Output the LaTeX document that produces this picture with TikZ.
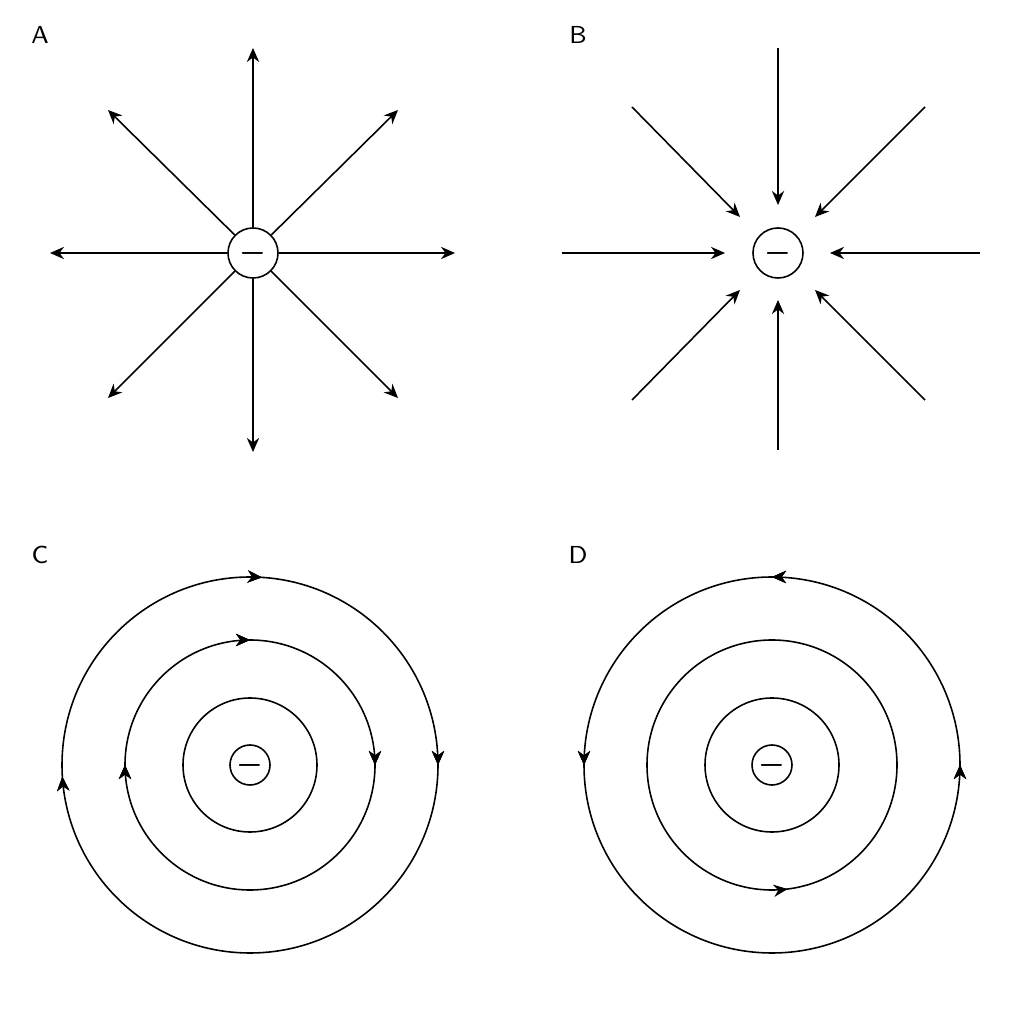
\documentclass[tikz,border=0pt]{standalone}
\usetikzlibrary{arrows.meta,decorations.markings}
\begin{document}
\begin{tikzpicture}[x=0.01cm,y=0.01cm,line width=0.45pt,
    charge/.style={draw,circle,minimum size=0.5cm,inner sep=0pt,font=\fontsize{8}{8}\selectfont\boldmath},
    lab/.style={font=\sffamily\fontsize{7}{8}\selectfont},
    field/.style={-{Stealth[length=4pt,width=3.5pt]}},
    ccw/.style={postaction={decorate},decoration={markings,
      mark=at position #1 with {\arrow{Stealth[length=4pt,width=3.5pt]}}}},
    cw/.style={postaction={decorate},decoration={markings,
      mark=at position #1 with {\arrowreversed{Stealth[length=4pt,width=3.5pt]}}}}]
  \useasboundingbox (0,0) rectangle (1024,1024);

  % A: field lines leaving the charge
  \node[lab] (la) at (40,989) {A};
  \node[charge] (qa) at (253,771) {$-$};
  \foreach \px/\py [count=\i] in {253/976, 253/572, 50/771, 455/771, 108/914, 398/914, 108/626, 398/626} {
    \coordinate (a\i) at (\px,\py);
    \draw[field] (qa) -- (a\i);
  }

  % B: field lines entering the charge
  \node[lab] (lb) at (578,989) {B};
  \node[charge] (qb) at (778,771) {$-$};
  \foreach \sx/\sy/\ex/\ey [count=\i] in {778/976/778/819, 778/574/778/724, 562/771/725/771, 980/771/830/771,
      632/917/740/807, 925/917/815/807, 632/624/740/734, 925/624/815/734} {
    \coordinate (bs\i) at (\sx,\sy);
    \coordinate (be\i) at (\ex,\ey);
    \draw[field] (bs\i) -- (be\i);
  }

  % C: clockwise rings (arcs start at the bottom)
  \node[lab] (lc) at (40,469) {C};
  \node[charge,minimum size=0.4cm] (qc) at (250,259) {$-$};
  \draw (qc.center) circle (67);
  \draw[cw=0.25,cw=0.49,cw=0.76] (250,71) arc[start angle=-90,end angle=270,radius=188];
  \draw[cw=0.25,cw=0.5,cw=0.75] (250,134) arc[start angle=-90,end angle=270,radius=125];

  % D: counterclockwise rings
  \node[lab] (ld) at (578,469) {D};
  \node[charge,minimum size=0.4cm] (qd) at (772,259) {$-$};
  \draw (qd.center) circle (67);
  \draw[ccw=0.25,ccw=0.5,ccw=0.75] (772,71) arc[start angle=-90,end angle=270,radius=188];
  \draw[ccw=0.02] (772,134) arc[start angle=-90,end angle=270,radius=125];
\end{tikzpicture}
\end{document}
